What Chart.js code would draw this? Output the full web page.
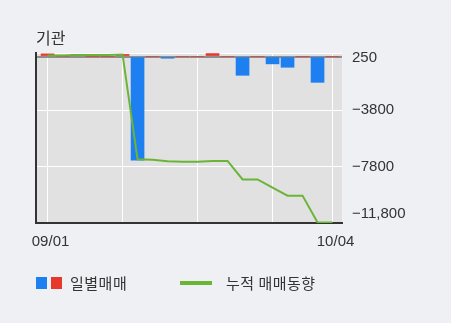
<!DOCTYPE html>
<html>
<head>
<meta charset="utf-8">
<script src="https://cdn.jsdelivr.net/npm/chart.js@4.4.0/dist/chart.umd.min.js"></script>
<style>
    body { margin: 0; background: #eef0f4; }
    #wrap { position: relative; width: 451px; height: 323px; overflow: hidden; }
    #chart { position: absolute; left: 0; top: 0; }
    .title { position: absolute; left: 36px; top: 27px; font: 16px "Noto Sans CJK KR", sans-serif; line-height: 20px; color: #333; }
    .lg { position: absolute; font: 15px "Noto Sans CJK KR", sans-serif; line-height: 20px; color: #333; top: 273px; }
    .sw { position: absolute; }
</style>
</head>
<body>
<div id="wrap">
    <canvas id="chart" width="451" height="323"></canvas>
    <div class="title">기관</div>
    <div class="sw" style="left:36px; top:277px; width:11px; height:12px; background:#1e7ff0;"></div>
    <div class="sw" style="left:51px; top:277px; width:11px; height:12px; background:#e8382b;"></div>
    <div class="lg" style="left:70px; letter-spacing:0.5px;">일별매매</div>
    <div class="sw" style="left:180px; top:281px; width:32px; height:4px; background:#6ab536;"></div>
    <div class="lg" style="left:226px; letter-spacing:0.5px;">누적 매매동향</div>
</div>
<script>
// trading days shown on the x axis (only first and last are labelled)
const dates = ['09/01', '09/04', '09/05', '09/06', '09/07', '09/08', '09/11', '09/12', '09/13', '09/14',
               '09/15', '09/18', '09/19', '09/20', '09/21', '09/22', '09/25', '09/26', '09/27', '10/04'];
// daily net trading (red = buy, blue = sell)
const daily = [190, 0, 150, 0, 0, 150, -7340, 0, -120, 0,
               0, 210, 0, -1330, 0, -520, -760, 0, -1830, 0];
// cumulative trading trend
const cumulative = [70, 70, 110, 110, 110, 150, -7290, -7320, -7430, -7460,
                    -7460, -7400, -7400, -8710, -8710, -9290, -9860, -9860, -11760, -11760];
const yTicks = [250, -3800, -7800, -11800];
const yTickLabels = ['250', '\u22123800', '\u22127800', '\u221211,800'];
const xTicks = [0, 5, 10, 15, 19];

const yMin = -11800;
const yMax = 250;

Chart.defaults.font.family = '"Liberation Sans", Arial, sans-serif';
Chart.defaults.font.size = 15;
Chart.defaults.color = '#333';

// grey plot background
const plotBg = {
    id: 'plotBg',
    beforeDraw(chart) {
        const a = chart.chartArea;
        const c = chart.ctx;
        c.save();
        c.fillStyle = '#e1e1e1';
        c.fillRect(a.left, a.top, a.right - a.left, a.bottom - a.top);
        c.restore();
    }
};

const ctx = document.getElementById('chart').getContext('2d');
const chart = new Chart(ctx, {
    type: 'bar',
    data: {
        datasets: [{
            type: 'line',
            label: '누적 매매동향',
            data: cumulative.map((v, i) => ({ x: i, y: v })),
            xAxisID: 'x',
            yAxisID: 'y',
            borderColor: '#6ab536',
            borderWidth: 2,
            pointRadius: 0,
            tension: 0,
            order: 0
        }, {
            type: 'bar',
            label: '일별매매',
            data: daily.map((v, i) => ({ x: i, y: v })),
            xAxisID: 'x',
            yAxisID: 'y',
            backgroundColor: daily.map(v => v >= 0 ? '#e8382b' : '#1e7ff0'),
            borderWidth: 0,
            barThickness: 13,
            order: 1
        }]
    },
    options: {
        responsive: false,
        animation: false,
        layout: { padding: { top: 53, bottom: 70, left: 0, right: 0 } },
        plugins: {
            legend: { display: false },
            tooltip: { enabled: false }
        },
        scales: {
            x: {
                type: 'linear',
                min: -0.77,
                max: 19.63,
                offset: false,
                afterBuildTicks: s => { s.ticks = xTicks.map(v => ({ value: v })); },
                afterFit: s => { s.height = 30; },
                grid: { color: '#fff', lineWidth: 1, drawTicks: false, offset: false },
                border: { color: '#333', width: 2 },
                ticks: {
                    padding: 10,
                    labelOffset: 3,
                    maxRotation: 0,
                    autoSkip: false,
                    callback: v => (v === 0 || v === dates.length - 1) ? dates[v] : ''
                }
            },
            y: {
                type: 'linear',
                position: 'right',
                min: yMin,
                max: yMax,
                afterBuildTicks: s => { s.ticks = [250, 0, -3800, -7800, -11800].map(v => ({ value: v })); },
                afterFit: s => { s.width = 0; },
                grid: {
                    color: c => c.tick && c.tick.value === 0 ? '#8e8e8e' : '#fff',
                    lineWidth: c => c.tick && c.tick.value === 0 ? 2 : 1,
                    drawTicks: false
                },
                border: { display: false },
                ticks: { display: false }
            },
            yLabel: {
                type: 'linear',
                position: 'right',
                min: yMin,
                max: yMax,
                // top and bottom labels sit a few pixels inside the plot
                afterBuildTicks: s => {
                    const perPx = (yMax - yMin) / (s.height || 170);
                    const shiftPx = [5, 0, 0, -9];
                    s.ticks = yTicks.map((v, i) => ({ value: v - shiftPx[i] * perPx }));
                },
                afterFit: s => { s.width = 109; },
                grid: { display: false, drawTicks: false },
                border: { display: false },
                ticks: {
                    padding: 10,
                    callback: (v, i) => yTickLabels[i]
                }
            },
            yL: {
                type: 'linear',
                position: 'left',
                afterFit: s => { s.width = 36; },
                grid: { display: false, drawTicks: false },
                border: { color: '#333', width: 2 },
                ticks: { display: false }
            }
        }
    },
    plugins: [plotBg]
});
</script>
</body>
</html>
